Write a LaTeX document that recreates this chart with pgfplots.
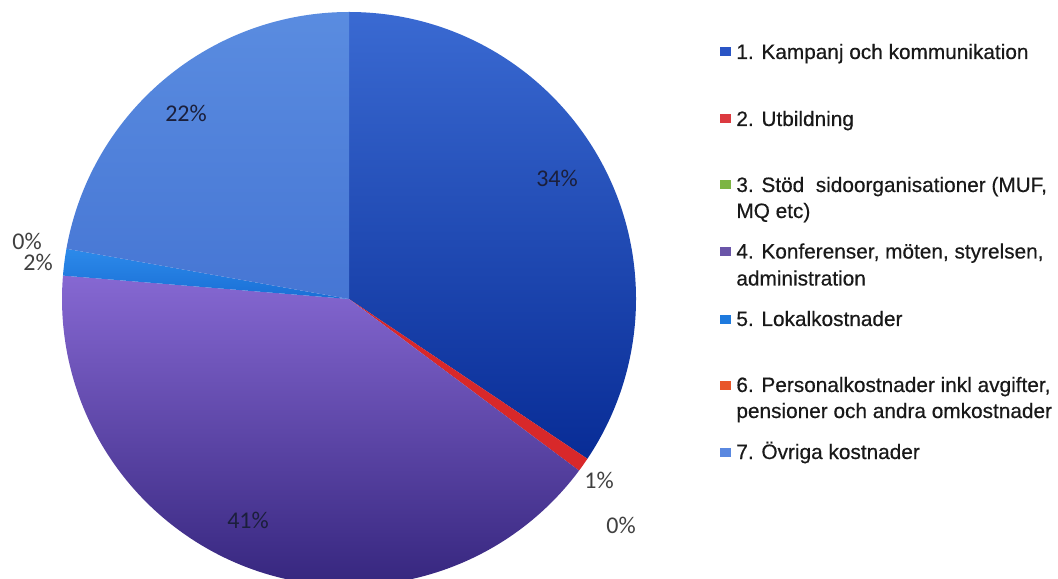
\documentclass[border=0pt]{standalone}
\usepackage{pgfplots}
\pgfplotsset{compat=1.18}
\usepackage{pgfplotstable}
\usepackage{fontspec}
\setmainfont{Liberation Sans}
\newfontfamily\legfont{Liberation Sans}[UprightFeatures={FakeBold=0.5}]
\newfontfamily\calib{Carlito}
\definecolor{c1t}{HTML}{3A6AD2}
\definecolor{c1b}{HTML}{082C96}
\definecolor{c2}{HTML}{D8282A}
\definecolor{c3}{HTML}{7DB544}
\definecolor{c4t}{HTML}{8668D2}
\definecolor{c4b}{HTML}{2C1E74}
\definecolor{c5t}{HTML}{2C8AEA}
\definecolor{c5b}{HTML}{1A6FD6}
\definecolor{c6}{HTML}{E8562A}
\definecolor{c7t}{HTML}{5A8CE0}
\definecolor{c7b}{HTML}{4676D4}
\definecolor{lg1}{HTML}{2A55C5}
\definecolor{lg2}{HTML}{DC3A40}
\definecolor{lg3}{HTML}{7DB544}
\definecolor{lg4}{HTML}{6A55A8}
\definecolor{lg5}{HTML}{1E7ADE}
\definecolor{lg6}{HTML}{E8562A}
\definecolor{lg7}{HTML}{5A88E0}
\definecolor{inlab}{HTML}{1B1F3B}
\definecolor{outlab}{HTML}{404040}
\tikzset{
 s1/.style={top color=c1t,bottom color=c1b},
 s2/.style={fill=c2},
 s3/.style={fill=c3},
 s4/.style={top color=c4t,bottom color=c4b},
 s5/.style={top color=c5t,bottom color=c5b},
 s6/.style={fill=c6},
 s7/.style={top color=c7t,bottom color=c7b},
 pl/.style={font=\calib\fontsize{12}{14}\selectfont, inner sep=0pt, anchor=center},
 lt/.style={font=\legfont\fontsize{10.4}{12}\selectfont, text=black!90, inner sep=0pt, anchor=base west},
}
\pgfplotstableread{
value style
34.4 s1
0.8 s2
0.0 s3
41.1 s4
1.5 s5
0.0 s6
22.2 s7
}\piedata
\pgfplotstableread{
ycenter color
52 lg1
119 lg2
185 lg3
252 lg4
319.5 lg5
385.7 lg6
452.5 lg7
}\legdata
\begin{document}
\begin{tikzpicture}
\begin{axis}[hide axis, x=0.5pt, y=0.5pt, xmin=0, xmax=1058, ymin=0, ymax=578,
  scale only axis, clip=true, anchor=origin, at={(0,0)}]
\addplot[draw=none] coordinates {(0,0) (1058,578)};
\def\cum{0}
\pgfplotsforeachungrouped \i in {0,...,6}{%
 \pgfplotstablegetelem{\i}{value}\of\piedata \let\v\pgfplotsretval
 \pgfplotstablegetelem{\i}{style}\of\piedata \let\s\pgfplotsretval
 \pgfmathsetmacro\a{90-3.6*\cum}%
 \pgfmathsetmacro\b{90-3.6*(\cum+\v)}%
 \pgfmathsetmacro\cum{\cum+\v}%
 \ifdim\v pt>0pt
 \edef\temp{\noexpand\path[\s] (axis cs:349,279) -- ++(\a:143.5pt) arc[start angle=\a, end angle=\b, radius=143.5pt] -- cycle;}%
 \temp
 \fi
}
\pgfplotsforeachungrouped \i in {0,...,6}{%
 \pgfplotstablegetelem{\i}{ycenter}\of\legdata \let\yc\pgfplotsretval
 \pgfplotstablegetelem{\i}{color}\of\legdata \let\cc\pgfplotsretval
 \pgfmathsetmacro\ya{578-\yc-4.5}%
 \pgfmathsetmacro\yb{578-\yc+4.5}%
 \edef\temp{\noexpand\fill[\cc] (axis cs:720,\ya) rectangle (axis cs:731,\yb);}%
 \temp
}
% percent labels
\node[pl, text=inlab] at (axis cs:557,400) {34\%};
\node[pl, text=inlab] at (axis cs:186,465) {22\%};
\node[pl, text=inlab] at (axis cs:248,58) {41\%};
\node[pl, text=outlab] at (axis cs:599,98) {1\%};
\node[pl, text=outlab] at (axis cs:621,53) {0\%};
\node[pl, text=outlab] at (axis cs:27,337) {0\%};
\node[pl, text=outlab] at (axis cs:38,316) {2\%};
% legend text
\node[lt] at (axis cs:736,519) {1. Kampanj och kommunikation};
\node[lt] at (axis cs:736,452) {2. Utbildning};
\node[lt] at (axis cs:736,386) {3. Stöd\ \ sidoorganisationer (MUF,};
\node[lt] at (axis cs:736,360) {MQ etc)};
\node[lt] at (axis cs:736,319.5) {4. Konferenser, möten, styrelsen,};
\node[lt] at (axis cs:736,292.5) {administration};
\node[lt] at (axis cs:736,252) {5. Lokalkostnader};
\node[lt] at (axis cs:736,186) {6. Personalkostnader inkl avgifter,};
\node[lt] at (axis cs:736,160) {pensioner och andra omkostnader};
\node[lt] at (axis cs:736,119) {7. Övriga kostnader};
\end{axis}
\pgfresetboundingbox
\useasboundingbox (0,0) rectangle (529pt,289pt);
\end{tikzpicture}
\end{document}
